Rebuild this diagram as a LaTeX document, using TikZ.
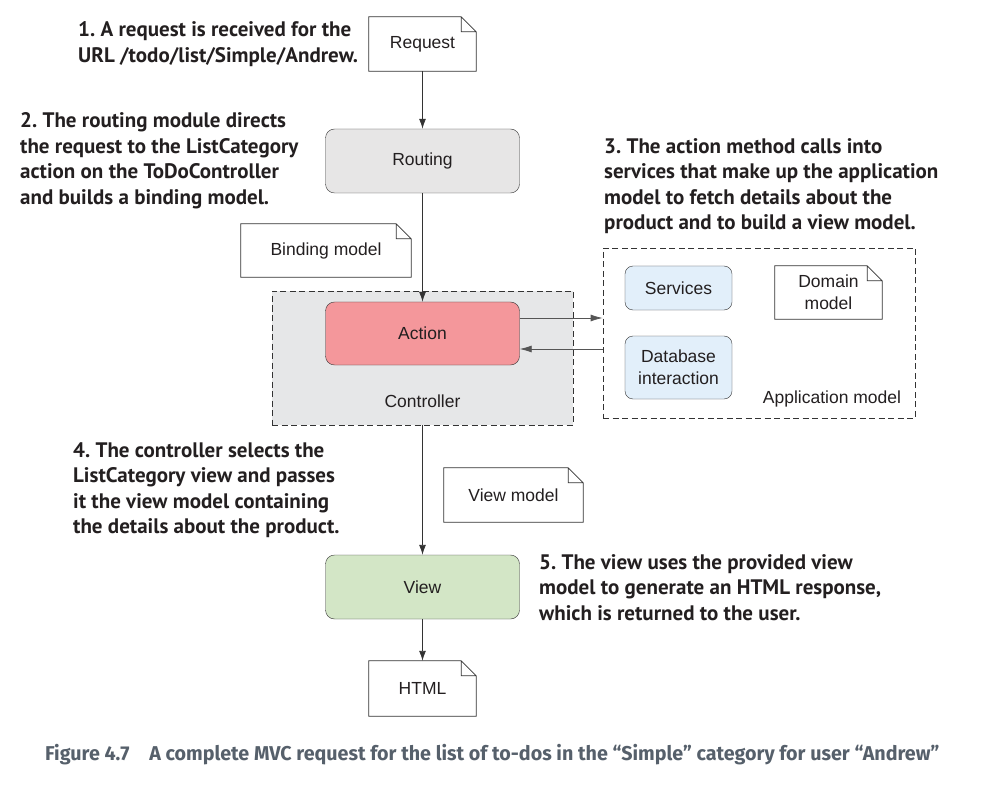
\documentclass[tikz,border=0pt]{standalone}
\usepackage{fontspec}
\setmainfont{Liberation Sans}
\newfontfamily\notefont{PT Sans}
\newfontfamily\capfont{Fira Sans}
\usetikzlibrary{arrows.meta,positioning}
\frenchspacing
\definecolor{ink}{HTML}{231F20}
\definecolor{edge}{HTML}{333333}
\definecolor{softedge}{HTML}{555555}
\definecolor{routefill}{HTML}{E7E6E6}
\definecolor{actfill}{HTML}{F4979B}
\definecolor{ctrlfill}{HTML}{E6E7E8}
\definecolor{svcfill}{HTML}{E2EFFA}
\definecolor{viewfill}{HTML}{D3E6C6}
\definecolor{capgrey}{HTML}{56606B}
\tikzset{
    module/.style={
    rectangle,rounded corners=9pt,draw=edge,minimum width=194pt,minimum height=64pt,
    font=\fontsize{17.5}{20}\selectfont,text=ink
    },
    service/.style={
    rectangle,rounded corners=8pt,draw=edge,fill=svcfill,minimum width=107pt,align=center,
    font=\fontsize{17.5}{22}\selectfont,text=ink
    },
    doc/.style={
    rectangle,minimum width=107pt,minimum height=54pt,align=center,
    font=\fontsize{17.5}{22}\selectfont,text=ink
    },
    docline/.style={
    draw=edge,fill=white,line width=0.8pt
    },
    area/.style={
    rectangle,draw=edge,dash pattern=on 6pt off 3.5pt,line width=0.8pt
    },
    note/.style={
    font=\notefont\bfseries\fontsize{21}{25.5}\selectfont,align=left,anchor=base west,
    inner sep=0pt,text=ink
    },
    flow/.style={
    -{Latex[length=10pt,width=7pt]},draw=edge,line width=0.9pt
    },
    call/.style={
    -{Latex[length=12pt,width=7pt]},draw=softedge,line width=0.8pt
    },
}
\begin{document}
\begin{tikzpicture}[x=1pt, y=-1pt, node distance=2cm, on grid]
   \useasboundingbox (0,0) rectangle (993,810);
   %areas
   \node[area,fill=ctrlfill,minimum width=301pt,minimum height=134pt] (ctrl) at (422.5,358) {};
   \node[font=\fontsize{17.5}{20}\selectfont,text=ink] (ctrllbl) at (422.5,401) {Controller};
   \node[area,fill=white,minimum width=312pt,minimum height=170pt] (appm) at (759,333) {};
   \node[font=\fontsize{17.5}{20}\selectfont,text=ink] (appmlbl) at (832,399) {Application model};
   %main column
   \node[doc] (req) at (422.5,44) {};
   \node[module,fill=routefill] (routing) [below = 117pt of req] {Routing};
   \node[module,fill=actfill,minimum height=63pt] (action) [below = 172.5pt of routing] {Action};
   \node[module,fill=viewfill] (view) [below = 253.5pt of action] {View};
   \node[doc,minimum height=55pt] (html) [below = 101.5pt of view] {};
   %side docs
   \node[doc,minimum width=170pt,minimum height=53pt] (bind) at (326,250.5) {};
   \node[doc,minimum height=53pt] (dom) at (828.5,292.5) {};
   \node[doc,minimum width=139pt] (vm) at (513.5,495) {};
   %services
   \node[service,minimum height=44pt] (svc) at (678.5,288) {Services};
   \node[service,minimum height=63pt] (db) at (678.5,367.5) {Database\\interaction};

   %folded corners
   \foreach \d in {req,bind,dom,vm,html}
     \draw[docline] (\d.north west) -- ([xshift=-15pt]\d.north east) -- ([yshift=-15pt]\d.north east)
       -- (\d.south east) -- (\d.south west) -- cycle
       ([xshift=-15pt]\d.north east) |- ([yshift=-15pt]\d.north east);
   \node[doc] at (req) {Request};
   \node[doc,minimum width=170pt] at (bind) {Binding model};
   \node[doc] at (dom) {Domain\\model};
   \node[doc,minimum width=139pt] at (vm) {View model};
   \node[doc] at (html) {HTML};

   %connectors
   \draw[flow] (req) -- (routing);
   \draw[flow] (routing) -- (action);
   \draw[flow] (ctrl.south) -- (view);
   \draw[flow] (view) -- (html);
   \draw[call] ([yshift=15.5pt]action.east) -- ([yshift=15.5pt]action.east -| appm.west);
   \draw[call] ([yshift=-15.5pt]action.east -| appm.west) -- ([yshift=-15.5pt]action.east);

   %notes (placed at the baseline of their last line)
   \node[note] (note1) at (78,62.5) {1. A request is received for the\\URL /todo/list/Simple/Andrew.};
   \node[note] (note2) at (20,204.5) {2. The routing module directs\\the request to the ListCategory\\action on the ToDoController\\and builds a binding model.};
   \node[note] (note3) at (604,230) {3. The action method calls into\\services that make up the application\\model to fetch details about the\\product and to build a view model.};
   \node[note] (note4) at (73,533.5) {4. The controller selects the\\ListCategory view and passes\\it the view model containing\\the details about the product.};
   \node[note] (note5) at (539,620) {5. The view uses the provided view\\model to generate an HTML response,\\which is returned to the user.};

   %caption
   \node[anchor=base west,inner sep=0pt,text=capgrey,font=\capfont\bfseries\fontsize{20}{24}\selectfont] (cap) at (45,760)
     {\scalebox{0.985}[1]{Figure 4.7\quad A complete MVC request for the list of to-dos in the \textquotedblleft Simple\textquotedblright{} category for user \textquotedblleft Andrew\textquotedblright}};
\end{tikzpicture}
\end{document}
